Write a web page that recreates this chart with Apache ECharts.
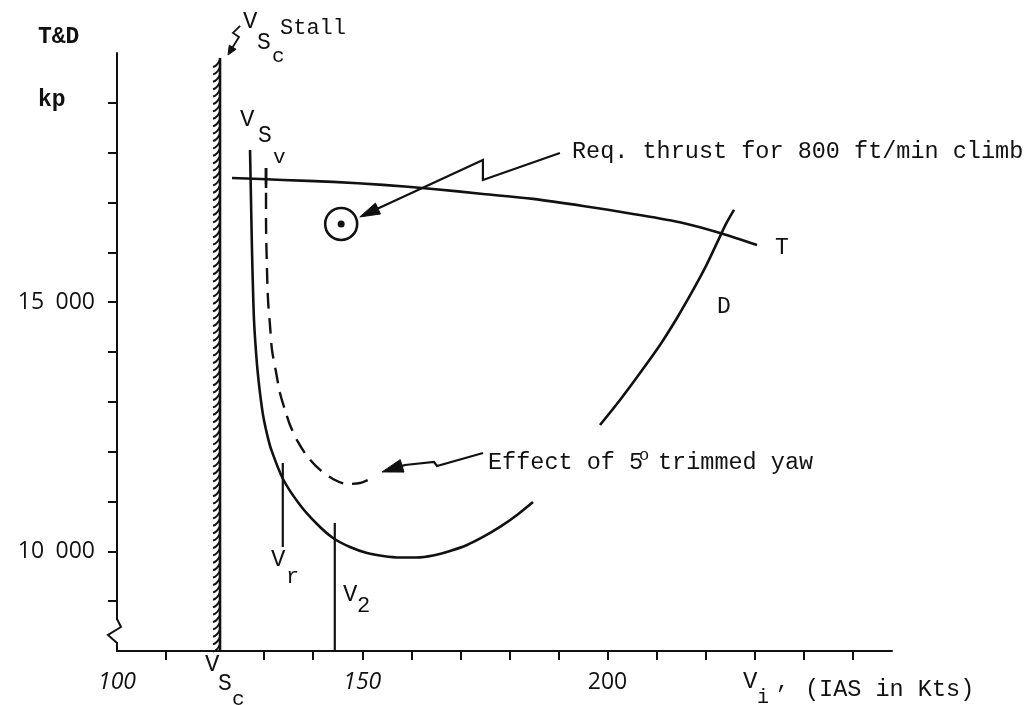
<!DOCTYPE html>
<html>
<head>
<meta charset="utf-8">
<script src="https://cdn.jsdelivr.net/npm/echarts@6/dist/echarts.min.js"></script>
<style>html,body{margin:0;padding:0;background:#fff}#c{width:1032px;height:705px}</style>
</head>
<body>
<div id="c"></div>
<script>
// ---- data (IAS in kts, T&D in kp) ----
const xTickValues = [110,130,140,150,160,170,180,190,200,210,220,230,240,250];
const xLabelValues = [100,150,200];
const yTickValues = [9000,10000,11000,12000,13000,14000,15000,16000,17000,18000,19000];
const yLabelValues = [10000,15000];

const thrustKts = [123.45,133.84,144.04,154.23,164.42,174.62,184.81,195.01,205.20,215.39,222.94,230.48];
const thrustVal = [17493,17453,17413,17353,17272,17172,17072,16931,16771,16590,16389,16148];

const dragLowKts = [127.12,127.32,127.52,127.73,127.93,128.24,128.64,129.15,129.77,130.58,131.40,133.84,137.31,140.77,144.04,147.50,150.97,154.23,157.70,161.16,164.42,167.89,171.36,174.62,178.08,181.55,184.81];
const dragLowVal = [18055,17052,16048,15245,14643,14141,13640,13178,12737,12355,12054,11452,10930,10549,10268,10087,9967,9907,9877,9877,9917,10007,10127,10288,10489,10730,10990];
const dragHighKts = [198.47,202.55,206.63,210.70,214.17,217.23,219.88,222.32,224.16,225.79];
const dragHighVal = [12536,13038,13579,14141,14683,15205,15687,16189,16570,16851];

const yawKts = [130.38,130.38,130.58,130.79,131.19,131.60,132.42,133.23,134.25,135.27,136.90,138.74,141.18,144.04,146.89,149.54,151.58];
const yawVal = [17694,16650,15647,15045,14543,14041,13600,13178,12837,12536,12195,11914,11653,11452,11352,11372,11452];

const stallKts = 121.0;  const stallRange = [8000, 19900];
const vsvKts = 130.38;   const vsvRange = [17292, 17694];
const vrKts = 133.8;     const vrRange = [10087, 11773];
const v2Kts = 144.4;     const v2Range = [8000, 10569];
const climbPoint = [145.7, 16569];

// annotation arrows: polyline points, last point = arrow tip
const reqArrow = [[190.3,17995],[174.6,17453],[174.6,17854],[149.5,16710]];
const yawArrow = [[174.62,11974],[165.24,11713],[164.63,11793],[158.72,11733],[154.03,11593]];
const stallArrow = [[125.1,20543],[123.65,20403],[124.87,20323],[122.63,19961]];
const arrows = [reqArrow, yawArrow, stallArrow];
const arrowHead = [[20,6],[21,6.5],[9,4]];

const zip = (a,b) => a.map((v,i) => [v,b[i]]);
const mono = '"Liberation Mono", "DejaVu Sans Mono", monospace';
const sans = '"Open Sans", "Noto Sans", sans-serif';
const K = '#111';

const chart = echarts.init(document.getElementById('c'), null, {renderer:'canvas'});

function txt(text, x, y, size, bold) {
  return {type:'text', x:x, y:y, z:100,
    style:{text:text, fill:K, font:(bold ? 'bold ' : '') + size + 'px ' + mono, textVerticalAlign:'middle'}};
}

const lineStyleSolid = {color:K, width:2.6};

chart.setOption({
  animation:false,
  backgroundColor:'#fff',
  grid:{left:117, right:140, top:53, bottom:54, containLabel:false},
  xAxis:{
    type:'value', min:100, max:258, interval:10,
    splitLine:{show:false},
    axisLine:{show:true, lineStyle:{color:K, width:2}},
    axisTick:{show:true, customValues:xTickValues, length:9, lineStyle:{color:K, width:2}},
    axisLabel:{customValues:xLabelValues, margin:20, color:K, fontSize:23, fontFamily:sans,
      formatter: v => v === 200 ? '{n|200}' : '{i|' + v + '}',
      rich:{n:{fontSize:23, fontFamily:sans, color:K}, i:{fontSize:23, fontFamily:sans, fontStyle:'italic', color:K}}}
  },
  yAxis:{
    type:'value', min:8000, max:20000, interval:1000,
    splitLine:{show:false},
    axisLine:{show:true, lineStyle:{color:K, width:2}},
    axisTick:{show:true, customValues:yTickValues, length:9, lineStyle:{color:K, width:2}},
    axisLabel:{customValues:yLabelValues, margin:22, color:K, fontSize:23, fontFamily:sans,
      formatter: v => (v/1000) + '\u2002000'}
  },
  series:[
    {type:'line', name:'T', data:zip(thrustKts, thrustVal), smooth:0.3, symbol:'none', lineStyle:lineStyleSolid},
    {type:'line', name:'D low', data:zip(dragLowKts, dragLowVal), smooth:0.3, symbol:'none', lineStyle:lineStyleSolid},
    {type:'line', name:'D high', data:zip(dragHighKts, dragHighVal), smooth:0.3, symbol:'none', lineStyle:lineStyleSolid},
    {type:'line', name:'yaw', data:zip(yawKts, yawVal), smooth:0.3, symbol:'none', lineStyle:{color:K, width:2.4, type:[16,9]}},
    {type:'line', name:'Vsv', data:[[vsvKts, vsvRange[0]],[vsvKts, vsvRange[1]]], symbol:'none', lineStyle:lineStyleSolid},
    {type:'line', name:'Vr', data:[[vrKts, vrRange[0]],[vrKts, vrRange[1]]], symbol:'none', lineStyle:{color:K, width:2.2}},
    {type:'line', name:'V2', data:[[v2Kts, v2Range[0]],[v2Kts, v2Range[1]]], symbol:'none', lineStyle:{color:K, width:2.2}},
    {type:'scatter', name:'climb', data:[climbPoint], symbol:'circle', symbolSize:32,
      itemStyle:{color:'rgba(0,0,0,0)', borderColor:K, borderWidth:2.6, opacity:1}},
    {type:'scatter', name:'climbdot', data:[climbPoint], symbol:'circle', symbolSize:7, itemStyle:{color:K, opacity:1}},
    {type:'custom', name:'stall', clip:false, data:[[stallKts, stallRange[0], stallRange[1]]],
      renderItem:function(params, api){
        const p1 = api.coord([api.value(0), api.value(1)]);
        const p2 = api.coord([api.value(0), api.value(2)]);
        const ch = [{type:'line', shape:{x1:p1[0], y1:p1[1], x2:p2[0], y2:p2[1]}, style:{stroke:K, lineWidth:2.6}}];
        for (let y = p2[1] + 5; y < p1[1] - 1; y += 7.4) {
          ch.push({type:'bezierCurve', shape:{x1:p1[0]-7, y1:y+4, cpx1:p1[0]-3, cpy1:y+3, x2:p1[0], y2:y-3},
            style:{stroke:K, lineWidth:2, fill:null}});
        }
        return {type:'group', children:ch};
      }},
    {type:'custom', name:'arrows', clip:false, data:arrows.map((a,i) => [i]),
      renderItem:function(params, api){
        const i = api.value(0);
        const pts = arrows[i].map(p => api.coord(p));
        const n = pts.length;
        const tip = pts[n-1], prev = pts[n-2];
        let dx = tip[0]-prev[0], dy = tip[1]-prev[1];
        const len = Math.sqrt(dx*dx+dy*dy); dx/=len; dy/=len;
        const L = arrowHead[i][0], W = arrowHead[i][1];
        const bx = tip[0]-dx*L, by = tip[1]-dy*L;
        const linePts = pts.slice(0, n-1).concat([[bx, by]]);
        return {type:'group', children:[
          {type:'polyline', shape:{points:linePts}, style:{stroke:K, lineWidth:i===2?1.8:2.2, fill:null}},
          {type:'polygon', shape:{points:[tip,[bx-dy*W, by+dx*W],[bx+dy*W, by-dx*W]]}, style:{fill:K, stroke:K, lineWidth:1}}
        ]};
      }}
  ],
  graphic:[
    txt('T&D', 38, 37, 23, true),
    txt('kp', 38, 100, 23, true),
    txt('V', 243, 22, 24), txt('S', 257, 43, 23), txt('c', 272, 56, 21),
    txt('Stall', 280, 28, 22),
    txt('V', 240, 120, 24), txt('S', 258, 136, 23), txt('v', 273, 157, 21),
    txt('Req. thrust for 800 ft/min climb', 572, 152, 23.5),
    txt('T', 775, 248, 23),
    txt('D', 717, 307, 23),
    txt('Effect of 5', 488, 463, 23.5),
    txt('o', 639, 455, 17),
    txt('trimmed yaw', 658, 463, 23.5),
    txt('V', 271, 560, 24), txt('r', 286, 577, 22),
    txt('V', 343, 595, 24), txt('2', 357, 606, 22),
    txt('V', 205, 665, 24), txt('S', 218, 684, 23), txt('c', 232, 699, 21),
    txt('V', 743, 682, 24), txt('i', 757, 698, 20), txt(',', 776, 682, 22),
    txt('(IAS in Kts)', 805, 690, 23.5),
    {type:'rect', shape:{x:112, y:620, width:9, height:22}, style:{fill:'#fff'}, z:90},
    {type:'polyline', shape:{points:[[117,619],[121,627],[108,635],[117,643]]}, style:{stroke:K, lineWidth:2, fill:null}, z:95}
  ]
});
</script>
</body>
</html>
